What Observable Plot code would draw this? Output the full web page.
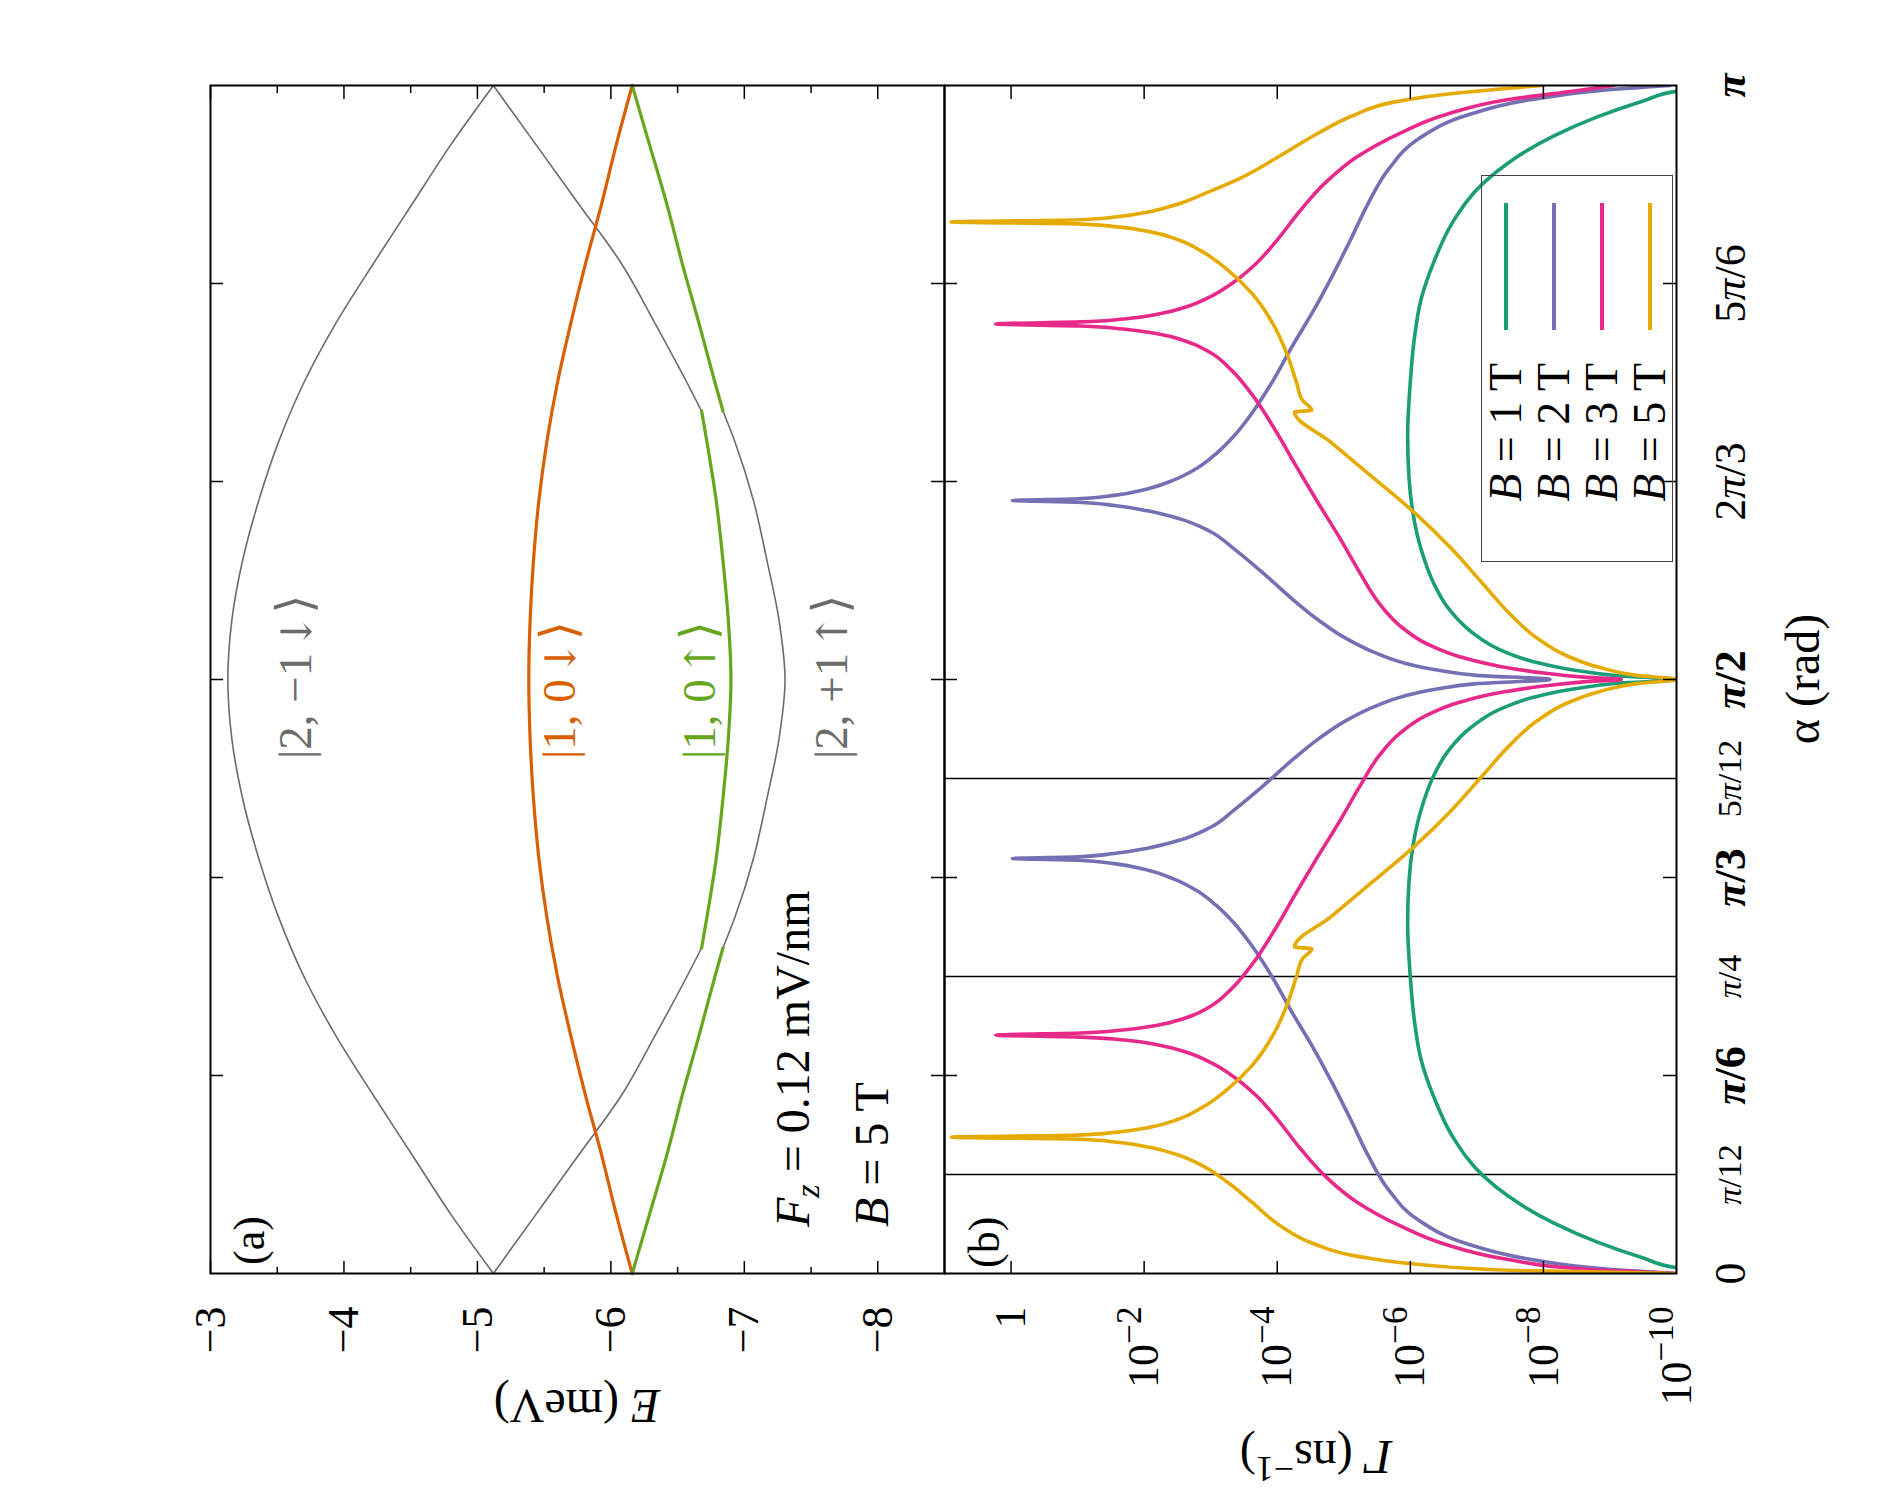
<!DOCTYPE html>
<html>
<head>
<meta charset="utf-8">
<script src="https://cdn.jsdelivr.net/npm/d3@7"></script>
<script src="https://cdn.jsdelivr.net/npm/@observablehq/plot@0.6"></script>
<style>
  html, body { margin: 0; padding: 0; background: #fff; width: 1890px; height: 1500px; overflow: hidden; }
  #fig { position: absolute; left: 0; top: 0; width: 1500px; height: 1890px;
         transform-origin: 0 0; transform: translateY(1500px) rotate(-90deg);
         font-family: "Liberation Serif", "Times New Roman", serif; color: #000; background: #fff; }
  #fig svg { display: block; }
  .ov { position: absolute; white-space: nowrap; line-height: 1; }
</style>
</head>
<body>
<div id="fig"></div>
<script>
// ---------------- colours ----------------
const GRAY = "#6b6b6b", ORANGE = "#d95f02", LGREEN = "#66a61e";
const C1 = "#1b9e77", C2 = "#7570b3", C3 = "#e7298a", C5 = "#e6ab02";

// ---------------- panel (a) data : alpha in units of pi, E in meV ----------------
const alphaGridA = [0,0.05,0.1,0.15,0.2,0.25,0.3,0.35,0.4,0.45,0.5,0.55,0.6,0.65,0.7,0.75,0.8,0.85,0.9,0.95,1];
const energy2m1Down = [-5.12,-4.80,-4.51,-4.22,-3.94,-3.70,-3.51,-3.36,-3.24,-3.16,-3.13,-3.16,-3.24,-3.36,-3.51,-3.70,-3.94,-4.22,-4.51,-4.80,-5.12];
const energy10Down  = [-6.16,-6.04,-5.93,-5.81,-5.70,-5.60,-5.52,-5.46,-5.42,-5.395,-5.385,-5.395,-5.42,-5.46,-5.52,-5.60,-5.70,-5.81,-5.93,-6.04,-6.16];
const alphaLowA  = [0,0.05,0.1,0.15,0.2,0.25,0.274];
const alphaMidA  = [0.274,0.3,0.35,0.4,0.45,0.5,0.55,0.6,0.65,0.7,0.726];
const alphaHighA = [0.726,0.75,0.8,0.85,0.9,0.95,1];
// upper of the two anticrossing branches
const energyUpperLow  = [-5.12,-5.44,-5.76,-6.08,-6.33,-6.57,-6.68];                      // grey
const energyUpperMid  = [-6.68,-6.72,-6.79,-6.84,-6.88,-6.90,-6.88,-6.84,-6.79,-6.72,-6.68]; // green
const energyUpperHigh = [-6.68,-6.57,-6.33,-6.08,-5.76,-5.44,-5.12];                      // grey
// lower of the two anticrossing branches
const energyLowerLow  = [-6.16,-6.29,-6.42,-6.535,-6.66,-6.78,-6.84];                       // green
const energyLowerMid  = [-6.84,-6.93,-7.07,-7.17,-7.26,-7.305,-7.26,-7.17,-7.07,-6.93,-6.84]; // grey
const energyLowerHigh = [-6.84,-6.78,-6.66,-6.535,-6.42,-6.29,-6.16];                       // green

const stateLabelText   = ["|2, \u22121\u2193\u27E9", "|1, 0\u2193\u27E9", "|1, 0\u2191\u27E9", "|2, +1\u2191\u27E9"];
const stateLabelAlpha  = [0.433, 0.433, 0.433, 0.433];
const stateLabelEnergy = [-3.64, -5.615, -6.665, -7.655];
const stateLabelColor  = [GRAY, ORANGE, LGREEN, GRAY];

const energyTicks      = [-3, -4, -5, -6, -7, -8];
const energyTickLabels = ["\u22123", "\u22124", "\u22125", "\u22126", "\u22127", "\u22128"];
const energyMinorTicks = [-3.5, -4.5, -5.5, -6.5, -7.5];

// ---------------- panel (b) data : [alpha/pi, log10(Gamma / ns^-1)] ----------------
const gammaB1T = [[0,-11],[0.0049,-10],[0.0131,-9.5],[0.0262,-8.82],[0.0426,-8.15],[0.0656,-7.46],[0.082,-7.10],
  [0.1148,-6.64],[0.1476,-6.36],[0.1804,-6.16],[0.2132,-6.06],[0.2493,-6.00],[0.2952,-5.96],[0.33,-5.98],
  [0.36,-6.04],[0.39,-6.16],[0.42,-6.36],[0.44,-6.57],[0.46,-6.92],[0.475,-7.35],[0.485,-7.85],[0.492,-8.45],
  [0.497,-9.15],[0.5,-10],[0.503,-9.15],[0.508,-8.45],[0.515,-7.85],[0.525,-7.35],[0.54,-6.92],[0.56,-6.57],
  [0.58,-6.36],[0.61,-6.16],[0.64,-6.04],[0.67,-5.98],[0.7048,-5.96],[0.7507,-6.00],[0.7868,-6.06],[0.8196,-6.16],
  [0.8524,-6.36],[0.8852,-6.64],[0.918,-7.10],[0.9344,-7.46],[0.9574,-8.15],[0.9738,-8.82],[0.9869,-9.5],
  [0.9951,-10],[1,-11]];
const gammaB2T = [[0,-10],[0.004,-8.9],[0.012,-7.8],[0.025,-6.85],[0.045,-6.12],[0.07,-5.68],[0.10,-5.36],
  [0.13,-5.10],[0.16,-4.83],[0.19,-4.54],[0.22,-4.22],[0.25,-3.92],[0.275,-3.63],[0.295,-3.35],[0.31,-3.08],
  [0.322,-2.80],[0.332,-2.45],[0.34,-2.02],[0.345,-1.55],[0.3478,-1.0],[0.3493,-0.02],[0.3508,-1.0],
  [0.3535,-1.55],[0.358,-2.05],[0.365,-2.55],[0.375,-2.98],[0.39,-3.35],[0.41,-3.78],[0.43,-4.18],[0.45,-4.62],
  [0.465,-5.02],[0.477,-5.45],[0.486,-5.90],[0.492,-6.40],[0.4965,-7.0],[0.5,-8.10],[0.5035,-7.0],[0.508,-6.40],
  [0.514,-5.90],[0.523,-5.45],[0.535,-5.02],[0.55,-4.62],[0.57,-4.18],[0.59,-3.78],[0.61,-3.35],[0.625,-2.98],
  [0.635,-2.55],[0.642,-2.05],[0.6465,-1.55],[0.6492,-1.0],[0.6507,-0.02],[0.6522,-1.0],[0.655,-1.55],
  [0.66,-2.02],[0.668,-2.45],[0.678,-2.80],[0.69,-3.08],[0.705,-3.35],[0.725,-3.63],[0.75,-3.92],[0.78,-4.22],
  [0.81,-4.54],[0.84,-4.83],[0.87,-5.10],[0.90,-5.36],[0.93,-5.68],[0.955,-6.12],[0.975,-6.85],[0.988,-7.8],
  [0.996,-8.9],[1,-9.9]];
const gammaB3T = [[0,-10],[0.004,-8.55],[0.012,-7.45],[0.025,-6.5],[0.04,-5.85],[0.06,-5.2],[0.082,-4.72],
  [0.105,-4.35],[0.13,-4.0],[0.15,-3.68],[0.165,-3.36],[0.177,-3.02],[0.186,-2.65],[0.192,-2.25],[0.1965,-1.70],
  [0.199,-1.05],[0.2007,0.23],[0.2024,-1.05],[0.205,-1.68],[0.209,-2.2],[0.215,-2.62],[0.225,-3.0],[0.24,-3.32],
  [0.26,-3.62],[0.29,-3.97],[0.32,-4.28],[0.35,-4.60],[0.38,-4.93],[0.41,-5.24],[0.435,-5.52],[0.455,-5.85],
  [0.47,-6.25],[0.481,-6.75],[0.489,-7.35],[0.4945,-8.0],[0.498,-8.6],[0.5,-9.17],[0.502,-8.6],[0.5055,-8.0],
  [0.511,-7.35],[0.519,-6.75],[0.53,-6.25],[0.545,-5.85],[0.565,-5.52],[0.59,-5.24],[0.62,-4.93],[0.65,-4.60],
  [0.68,-4.28],[0.71,-3.97],[0.74,-3.62],[0.76,-3.32],[0.775,-3.0],[0.785,-2.62],[0.791,-2.2],[0.795,-1.68],
  [0.7976,-1.05],[0.7993,0.23],[0.801,-1.05],[0.8035,-1.70],[0.808,-2.25],[0.814,-2.65],[0.823,-3.02],
  [0.835,-3.36],[0.85,-3.68],[0.87,-4.0],[0.895,-4.35],[0.918,-4.72],[0.94,-5.2],[0.96,-5.85],[0.975,-6.5],
  [0.988,-7.45],[0.996,-8.55],[1,-9.06]];
const gammaB5T = [[0,-10],[0.0025,-7.6],[0.007,-6.25],[0.014,-5.25],[0.025,-4.55],[0.04,-4.05],[0.06,-3.62],
  [0.077,-3.25],[0.09,-2.9],[0.1,-2.5],[0.106,-2.1],[0.1105,-1.6],[0.113,-1.05],[0.1148,0.90],[0.1165,-1.0],
  [0.119,-1.6],[0.123,-2.08],[0.13,-2.52],[0.14,-2.88],[0.155,-3.25],[0.175,-3.62],[0.2,-3.93],[0.225,-4.14],
  [0.25,-4.29],[0.265,-4.38],[0.2733,-4.52],[0.2749,-4.26],[0.30,-4.80],[0.33,-5.44],[0.36,-6.07],[0.39,-6.62],
  [0.42,-7.10],[0.445,-7.50],[0.465,-7.90],[0.48,-8.35],[0.49,-8.85],[0.4965,-9.4],[0.5,-10],[0.5035,-9.4],
  [0.51,-8.85],[0.52,-8.35],[0.535,-7.90],[0.555,-7.50],[0.58,-7.10],[0.61,-6.62],[0.64,-6.07],[0.67,-5.44],
  [0.70,-4.80],[0.7251,-4.26],[0.7267,-4.52],[0.735,-4.38],[0.75,-4.29],[0.775,-4.14],[0.80,-3.93],[0.825,-3.62],
  [0.845,-3.25],[0.86,-2.88],[0.87,-2.52],[0.877,-2.08],[0.881,-1.6],[0.8835,-1.0],[0.8852,0.90],[0.887,-1.05],
  [0.8895,-1.6],[0.894,-2.1],[0.9,-2.5],[0.91,-2.95],[0.922,-3.45],[0.94,-4.02],[0.96,-4.62],[0.975,-5.15],
  [0.986,-5.75],[0.993,-6.6],[1,-7.99]];

const seriesB      = [gammaB1T, gammaB2T, gammaB3T, gammaB5T];
const seriesColors = [C1, C2, C3, C5];
const legendLabels = ["1", "2", "3", "5"];

const gammaTicks      = [1, 1e-2, 1e-4, 1e-6, 1e-8, 1e-10];
const gammaTickLabels = ["1", "10^\u22122", "10^\u22124", "10^\u22126", "10^\u22128", "10^\u221210"];

const alphaTickValues = [0, 1/12, 1/6, 1/4, 1/3, 5/12, 1/2, 2/3, 5/6, 1];
const alphaTickLabels = ["0", "\u03C0/12", "\u03C0/6", "\u03C0/4", "\u03C0/3", "5\u03C0/12", "\u03C0/2", "2\u03C0/3", "5\u03C0/6", "\u03C0"];
const alphaTickSmall  = [false, true, false, true, false, true, false, false, false, false];
const alphaTickBold   = [false, false, true, false, true, false, true, false, false, true];
const alphaFrameTicks = [1/6, 1/3, 1/2, 2/3, 5/6];
const alphaGuideLines = [1/12, 1/4, 5/12];

// ---------------- layout (original, un-rotated orientation) ----------------
const FONT = '"Liberation Serif", "Times New Roman", serif';
const W = 1500, mL = 226, mR = 86, innerW = W - mL - mR;
const hA = 944, mTA = 210, mBA = 0, innerHA = hA - mTA - mBA;
const hB = 946, mTB = 0, mBB = 214, innerHB = hB - mTB - mBB;
const TICK = 13, MINOR = 7;
const fig = document.getElementById("fig");

const rows = (alphas, vals) => alphas.map((a, i) => ({a, v: vals[i]}));
const lineA = (alphas, vals, color, w) => Plot.line(rows(alphas, vals), {x: "a", y: "v", stroke: color, strokeWidth: w, curve: "monotone-x"});

const edgeTicksY = (vals, len, innerLen, w = 1.5) => [
  Plot.ruleY(vals, {y: d => d, insetRight: innerLen - len, stroke: "black", strokeWidth: w}),
  Plot.ruleY(vals, {y: d => d, insetLeft: innerLen - len, stroke: "black", strokeWidth: w})
];
const edgeTicksX = (vals, len, innerLen, w = 1.5) => [
  Plot.ruleX(vals, {x: d => d, insetBottom: innerLen - len, stroke: "black", strokeWidth: w}),
  Plot.ruleX(vals, {x: d => d, insetTop: innerLen - len, stroke: "black", strokeWidth: w})
];

const energyLabelMap = new Map(energyTicks.map((d, i) => [d, energyTickLabels[i]]));
const gammaLabelMap  = new Map(gammaTicks.map((d, i) => [d, gammaTickLabels[i]]));
const alphaLabelMap  = new Map(alphaTickValues.map((d, i) => [d, alphaTickLabels[i]]));

// ---------------- panel (a) ----------------
const plotA = Plot.plot({
  width: W, height: hA, marginLeft: mL, marginRight: mR, marginTop: mTA, marginBottom: mBA,
  style: {fontFamily: FONT, background: "transparent", overflow: "visible"},
  x: {domain: [0, 1], axis: null},
  y: {domain: [-8.5, -3], axis: null},
  marks: [
    lineA(alphaGridA, energy2m1Down, GRAY, 1.6),
    lineA(alphaLowA, energyUpperLow, GRAY, 1.6),
    lineA(alphaMidA, energyLowerMid, GRAY, 1.6),
    lineA(alphaHighA, energyUpperHigh, GRAY, 1.6),
    lineA(alphaGridA, energy10Down, ORANGE, 3.2),
    lineA(alphaMidA, energyUpperMid, LGREEN, 3.2),
    lineA(alphaLowA, energyLowerLow, LGREEN, 3.2),
    lineA(alphaHighA, energyLowerHigh, LGREEN, 3.2),
    ...edgeTicksY(energyTicks, TICK, innerW),
    ...edgeTicksY(energyMinorTicks, MINOR, innerW),
    ...edgeTicksX(alphaFrameTicks, TICK, innerHA),
    Plot.frame({stroke: "black", strokeWidth: 2}),
    Plot.axisY(energyTicks, {anchor: "left", tickSize: 0, tickPadding: 33, fontSize: 44,
      tickFormat: d => energyLabelMap.get(d), label: null}),
    ...stateLabelText.map((t, i) => Plot.text([t], {x: stateLabelAlpha[i], y: stateLabelEnergy[i], text: d => d,
      fill: stateLabelColor[i], fontSize: 47, textAnchor: "start"}))
  ]
});

// ---------------- panel (b) ----------------
const plotB = Plot.plot({
  width: W, height: hB, marginLeft: mL, marginRight: mR, marginTop: mTB, marginBottom: mBB,
  style: {fontFamily: FONT, background: "transparent", overflow: "visible"},
  x: {domain: [0, 1], axis: null},
  y: {type: "log", domain: [1e-10, 10], axis: null},
  marks: [
    Plot.ruleX(alphaGuideLines, {x: d => d, stroke: "black", strokeWidth: 1.6}),
    ...seriesB.map((s, i) => Plot.line(s, {x: d => d[0], y: d => Math.pow(10, d[1]), stroke: seriesColors[i],
      strokeWidth: 3.6, curve: "monotone-x", clip: true})),
    ...edgeTicksY(gammaTicks.slice(0, 5), TICK, innerW),
    ...edgeTicksX(alphaFrameTicks, TICK, innerHB),
    Plot.frame({stroke: "black", strokeWidth: 2}),
    Plot.axisY(gammaTicks, {anchor: "left", tickSize: 0, tickPadding: 33, fontSize: 44,
      tickFormat: d => gammaLabelMap.get(d), label: null}),
    Plot.axisX(alphaTickValues, {anchor: "bottom", tickSize: 0, tickPadding: 54, fontSize: 44, lineAnchor: "middle",
      tickFormat: d => alphaLabelMap.get(d), label: null})
  ]
});

fig.appendChild(plotA);
fig.appendChild(plotB);

// typographic refinements of text (italic pi, superscripts, sizes, arrow glyphs)
plotB.querySelectorAll("text").forEach(t => {
  const s = t.textContent;
  const ai = alphaTickLabels.indexOf(s);
  if (ai >= 0) {
    t.setAttribute("font-size", alphaTickSmall[ai] ? 34 : 44);
    if (alphaTickBold[ai]) t.setAttribute("font-weight", "bold");
    t.innerHTML = s.replace("\u03C0", '<tspan font-style="italic">\u03C0</tspan>');
    return;
  }
  if (s.includes("^")) {
    const [base, exp] = s.split("^");
    t.innerHTML = `${base}<tspan dy="-0.5em" font-size="0.8em">${exp}</tspan>`;
  }
});
plotA.querySelectorAll("text").forEach(t => {
  const s = t.textContent;
  if (stateLabelText.includes(s)) {
    t.innerHTML = s.replace(/([\u2191\u2193])/, '<tspan font-family="DejaVu Serif" font-size="0.9em" dx="0.08em">$1</tspan>')
                   .replace("\u27E9", '<tspan font-family="DejaVu Serif" font-size="1.05em">\u27E9</tspan>');
  }
});

// ---------------- overlays (text, legend) ----------------
function overlay(html, u, v, size, anchor = "start", extra = "") {
  const d = document.createElement("div");
  d.className = "ov";
  d.innerHTML = html;
  d.style.left = u + "px";
  d.style.top = v + "px";
  d.style.fontSize = size + "px";
  const tx = anchor === "middle" ? "-50%" : anchor === "end" ? "-100%" : "0";
  d.style.transform = `translate(${tx},-50%) ${extra}`;
  fig.appendChild(d);
  return d;
}
overlay("(a)", 235, 250, 44);
overlay("(b)", 232, 985, 44);
overlay('<i>F</i><span style="position:relative;top:0.3em;font-size:0.72em;font-style:italic">z</span> = 0.12 mV/nm', 273, 793, 48);
overlay("<i>B</i> = 5 T", 273, 872, 48);
overlay("<i>E</i> (meV)", 94, 577, 48, "middle", "rotate(-90deg)");
overlay('<i>\u0393</i> (ns<span style="position:relative;top:-0.45em;font-size:0.75em">\u22121</span>)', 43, 1316, 48, "middle", "rotate(-90deg)");
overlay("\u03B1 (rad)", 821, 1803, 48, "middle");

// legend box
const leg = document.createElement("div");
leg.style.cssText = "position:absolute;left:938px;top:1481px;width:387px;height:192px;border:1.5px solid #444;box-sizing:border-box;";
fig.appendChild(leg);
legendLabels.forEach((b, i) => {
  const row = document.createElement("div");
  row.className = "ov";
  row.style.cssText += `position:absolute;right:${387 - 200}px;top:${24 + 48 * i}px;transform:translateY(-50%);font-size:46px;`;
  row.innerHTML = `<i>B</i> = ${b} T`;
  leg.appendChild(row);
  const ln = document.createElement("div");
  ln.style.cssText = `position:absolute;left:231px;width:127px;top:${24 + 48 * i - 1.75}px;height:3.5px;background:${seriesColors[i]};`;
  leg.appendChild(ln);
});
</script>
</body>
</html>
